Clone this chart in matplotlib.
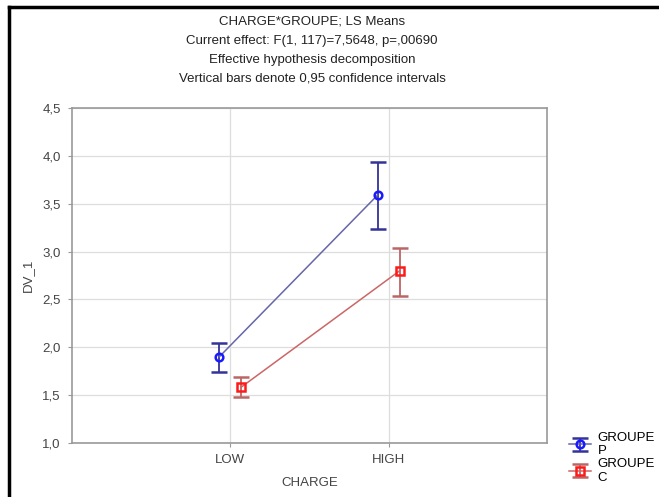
import matplotlib.pyplot as plt
from matplotlib.lines import Line2D
import numpy as np

plt.rcParams['font.family'] = ['Liberation Sans', 'DejaVu Sans']

# LS means and 95% CI bounds
charge = ['LOW', 'HIGH']
groups = ['GROUPE\nP', 'GROUPE\nC']
means_p = [1.90, 3.59]
lower_p = [1.74, 3.24]
upper_p = [2.045, 3.94]
means_c = [1.585, 2.80]
lower_c = [1.48, 2.54]
upper_c = [1.69, 3.04]

fig = plt.figure(figsize=(6.59, 4.97), dpi=100)
ax = fig.add_axes([72/659, 1 - 443/497, 475/659, 335/497])

x = np.arange(len(charge))
series = [
    (means_p, lower_p, upper_p, -0.07, '#1a1aff', '#6666aa', '#333399', 'o'),
    (means_c, lower_c, upper_c, 0.07, '#ff1a1a', '#cc6666', '#bb6666', 's'),
]
handles = []
for (m, lo, hi, off, mcol, lcol, ecol, mk), lab in zip(series, groups):
    m = np.array(m)
    yerr = [m - np.array(lo), np.array(hi) - m]
    h = ax.errorbar(x + off, m, yerr=yerr, color=lcol, linewidth=1.1,
                    ecolor=ecol, elinewidth=1.3, capsize=5.5, capthick=1.3,
                    marker=mk, markersize=5.5, markerfacecolor='none',
                    markeredgecolor=mcol, markeredgewidth=1.8, label=lab, zorder=3)
    handles.append(h)

ax.set_xlim(-1, 2)
ax.set_ylim(1.0, 4.5)
ax.set_xticks(x)
ax.set_xticklabels(charge)
yt = np.arange(1.0, 4.51, 0.5)
ax.set_yticks(yt)
ax.set_yticklabels([f'{v:.1f}'.replace('.', ',') for v in yt])
ax.grid(True, color='#dddddd', linewidth=0.9, zorder=0)
ax.set_axisbelow(True)
for s in ax.spines.values():
    s.set_color('#999999')
    s.set_linewidth(1.2)
ax.tick_params(colors='#999999', labelcolor='#444444', labelsize=9.5, length=3, pad=5)

ax.set_xlabel('CHARGE', fontsize=9.5, color='#444444', labelpad=8)
ax.set_ylabel('DV_1', fontsize=9.5, color='#444444', labelpad=6)

title = ('CHARGE*GROUPE; LS Means\n'
         'Current effect: F(1, 117)=7,5648, p=,00690\n'
         'Effective hypothesis decomposition\n'
         'Vertical bars denote 0,95 confidence intervals')
fig.text(312/659, 1 - 16/497, title, ha='center', va='top', fontsize=9.5,
         color='#222222', linespacing=1.75)

fig.legend(handles=handles, loc='upper left', bbox_to_anchor=(562/659, 1 - 425/497),
           frameon=False, fontsize=9.5, handlelength=1.7, borderpad=0,
           labelspacing=0.05, handletextpad=0.5)

# outer frame, top and left edges only
fig.add_artist(Line2D([9/659, 1], [1 - 7/497] * 2, color='black', linewidth=2.5,
                      transform=fig.transFigure))
fig.add_artist(Line2D([9/659] * 2, [0, 1 - 7/497], color='black', linewidth=2.5,
                      transform=fig.transFigure))

fig.savefig('out.png', dpi=100)
